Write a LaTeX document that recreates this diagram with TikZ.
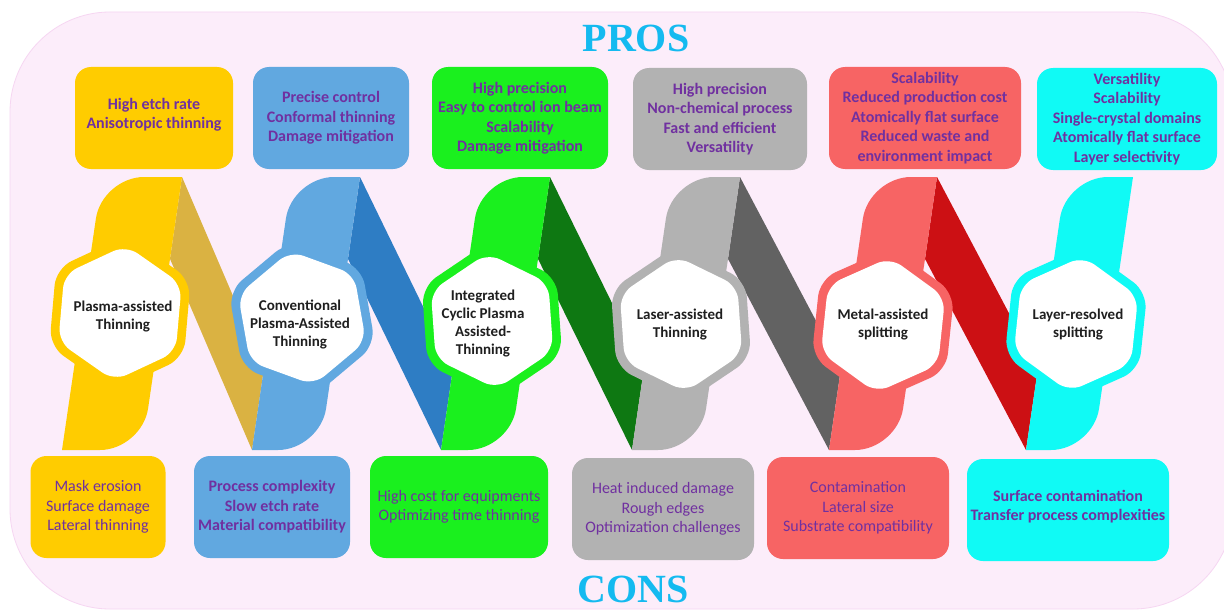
\documentclass[tikz,border=0pt]{standalone}
\usepackage{fontspec}
\setmainfont{Carlito}
\newfontfamily\headfont{Liberation Serif}
\usepackage{tikz}
\usetikzlibrary{positioning,calc,backgrounds}
\definecolor{plasmayellow}{RGB}{255,204,0}
\definecolor{plasmadark}{RGB}{218,178,66}
\definecolor{convblue}{RGB}{97,168,224}
\definecolor{convdark}{RGB}{46,125,196}
\definecolor{cyclicgreen}{RGB}{26,240,30}
\definecolor{cyclicdark}{RGB}{14,120,18}
\definecolor{lasergrey}{RGB}{178,178,178}
\definecolor{laserdark}{RGB}{98,98,98}
\definecolor{metalred}{RGB}{247,100,100}
\definecolor{metaldark}{RGB}{204,16,20}
\definecolor{layercyan}{RGB}{16,250,245}
\definecolor{panelpink}{RGB}{252,237,250}
\definecolor{panelline}{RGB}{246,214,242}
\definecolor{textpurple}{RGB}{112,48,160}
\definecolor{headblue}{RGB}{20,186,240}
\tikzset{
  Band/.pic={
    \tikzset{/bandblock/.cd,#1}
    \coordinate (\bandname-bl) at (0,0);
    \coordinate (\bandname-tl) at (\slant,-273);
    \coordinate (\bandname-tr) at ({\slant+\bandw},-273);
    \coordinate (\bandname-br) at (\bandw,0);
    % slanted strip, round corner top-left and bottom-right only
    \fill[\bandcol] (\bandname-bl)
      -- ($(\bandname-tl)!42pt!(\bandname-bl)$)
      .. controls ($(\bandname-tl)!19pt!(\bandname-bl)$) and ($(\bandname-tl)!19pt!(\bandname-tr)$) .. ($(\bandname-tl)!42pt!(\bandname-tr)$)
      -- (\bandname-tr)
      -- ($(\bandname-br)!42pt!(\bandname-tr)$)
      .. controls ($(\bandname-br)!19pt!(\bandname-tr)$) and ($(\bandname-br)!19pt!(\bandname-bl)$) .. ($(\bandname-br)!42pt!(\bandname-bl)$)
      -- cycle;
  },
  /bandblock/.search also={/tikz},
  /bandblock/.cd,
  width/.store in=\bandw,
  slant/.store in=\slant,
  name/.store in=\bandname,
  fill/.store in=\bandcol,
  width=68,slant=40,name=,fill=gray,
}
\tikzset{
  Hex/.pic={
    \tikzset{/hexblock/.cd,#1}
    \fill[\ringcol,rotate=\hexrot,rounded corners=17pt] (90:78pt) -- (30:78pt) -- (-30:78pt) -- (-90:78pt) -- (-150:78pt) -- (150:78pt) -- cycle;
    \fill[white,rotate=\hexrot,rounded corners=14pt] (90:68pt) -- (30:68pt) -- (-30:68pt) -- (-90:68pt) -- (-150:68pt) -- (150:68pt) -- cycle;
  },
  /hexblock/.search also={/tikz},
  /hexblock/.cd,
  ring/.store in=\ringcol,
  turn/.store in=\hexrot,
  ring=gray,turn=0,
}

\begin{document}
\begin{tikzpicture}[x=1pt,y=-1pt]

\tikzset{
  probox/.style={rounded corners=16pt, text=textpurple, align=center, inner sep=0pt,
                 minimum height=102pt, font=\fontsize{16}{19.5}\selectfont\bfseries},
  conbox/.style={probox, font=\fontsize{16}{19.5}\selectfont},
  hexlbl/.style={align=center, text=black!88, inner sep=0pt, font=\fontsize{15}{18}\selectfont\bfseries},
  headline/.style={anchor=base, text=headblue, font=\headfont\bfseries\fontsize{40}{40}\selectfont}
}

\useasboundingbox (0,0) rectangle (1224,610);
\clip (0,0) rectangle (1224,610);

% -----------------------------------------
% pink panel
% -----------------------------------------
\begin{scope}[on background layer]
  \fill[white] (0,0) rectangle (1224,610);
  \fill[panelpink, draw=panelline, line width=0.8pt, rounded corners=100pt] (10,12) rectangle (1233,609);
\end{scope}

\node[headline] (hdpros) at (636,52) {PROS};
\node[headline] (hdcons) at (633,602) {CONS};

% -----------------------------------------
% strips
% -----------------------------------------
\pic at (62,450) {Band={name=b1,fill=plasmayellow,width=80}};
\pic at (252,450) {Band={name=b2,fill=convblue,width=68}};
\pic at (441,450) {Band={name=b3,fill=cyclicgreen,width=69}};
\pic at (632,450) {Band={name=b4,fill=lasergrey,width=68}};
\pic at (829,450) {Band={name=b5,fill=metalred,width=68}};
\pic at (1026,450) {Band={name=b6,fill=layercyan,width=67}};

% dark links behind the strips
\begin{scope}[on background layer]
  \fill[plasmadark] (b1-tr) -- ($(b1-tr)!0.3!(b1-br)$) -- (b2-bl) -- ($(b2-bl)!0.3!(b2-tl)$) -- cycle;
  \fill[convdark] (b2-tr) -- ($(b2-tr)!0.3!(b2-br)$) -- (b3-bl) -- ($(b3-bl)!0.3!(b3-tl)$) -- cycle;
  \fill[cyclicdark] (b3-tr) -- ($(b3-tr)!0.3!(b3-br)$) -- (b4-bl) -- ($(b4-bl)!0.3!(b4-tl)$) -- cycle;
  \fill[laserdark] (b4-tr) -- ($(b4-tr)!0.3!(b4-br)$) -- (b5-bl) -- ($(b5-bl)!0.3!(b5-tl)$) -- cycle;
  \fill[metaldark] (b5-tr) -- ($(b5-tr)!0.3!(b5-br)$) -- (b6-bl) -- ($(b6-bl)!0.3!(b6-tl)$) -- cycle;
\end{scope}

% -----------------------------------------
% hexagon badges
% -----------------------------------------
\pic at (120,313) {Hex={ring=plasmayellow,turn=-5}};
\node[hexlbl] (lbl1) at (123,317) {Plasma-assisted\\Thinning};

\pic at (302,318) {Hex={ring=convblue,turn=10}};
\node[hexlbl] (lbl2) at (300,324) {Conventional\\Plasma-Assisted\\Thinning};

\pic at (492,321) {Hex={ring=cyclicgreen,turn=4}};
\node[hexlbl] (lbl3) at (483,324) {Integrated\\Cyclic Plasma\\Assisted-\\Thinning};

\pic at (681,324) {Hex={ring=lasergrey,turn=4}};
\node[hexlbl] (lbl4) at (680,325) {Laser-assisted\\Thinning};

\pic at (883,325) {Hex={ring=metalred,turn=-6}};
\node[hexlbl] (lbl5) at (883,325) {Metal-assisted\\splitting};

\pic at (1076,324) {Hex={ring=layercyan,turn=-6}};
\node[hexlbl] (lbl6) at (1078,325) {Layer-resolved\\splitting};

% -----------------------------------------
% pros
% -----------------------------------------
\node[probox, fill=plasmayellow, minimum width=158pt, text depth=9pt] (pro1) at (154,118) {High etch rate\\Anisotropic thinning};
\node[probox, fill=convblue, minimum width=156pt] (pro2) at (331,118) {Precise control\\Conformal thinning\\Damage mitigation};
\node[probox, fill=cyclicgreen, minimum width=176pt] (pro3) at (520,118) {High precision\\Easy to control ion beam\\Scalability\\Damage mitigation};
\node[probox, fill=lasergrey, minimum width=174pt] (pro4) at (720,119) {High precision\\Non-chemical process\\Fast and efficient\\Versatility};
\node[probox, fill=metalred, minimum width=192pt] (pro5) at (925,118) {Scalability\\Reduced production cost\\Atomically flat surface\\Reduced waste and\\environment impact};
\node[probox, fill=layercyan, minimum width=180pt] (pro6) at (1127,119) {Versatility\\Scalability\\Single-crystal domains\\Atomically flat surface\\Layer selectivity};

% -----------------------------------------
% cons
% -----------------------------------------
\node[conbox, fill=plasmayellow, minimum width=135pt] (con1) at (98,507) {Mask erosion\\Surface damage\\Lateral thinning};
\node[probox, fill=convblue, minimum width=156pt] (con2) at (272,507) {Process complexity\\Slow etch rate\\Material compatibility};
\node[conbox, fill=cyclicgreen, minimum width=178pt] (con3) at (459,507) {High cost for equipments\\Optimizing time thinning};
\node[conbox, fill=lasergrey, minimum width=182pt] (con4) at (663,509) {Heat induced damage\\Rough edges\\Optimization challenges};
\node[conbox, fill=metalred, minimum width=182pt] (con5) at (858,508) {Contamination\\Lateral size\\Substrate compatibility};
\node[probox, fill=layercyan, minimum width=202pt, text depth=9pt] (con6) at (1068,510) {Surface contamination\\Transfer process complexities};
\end{tikzpicture}
\end{document}
